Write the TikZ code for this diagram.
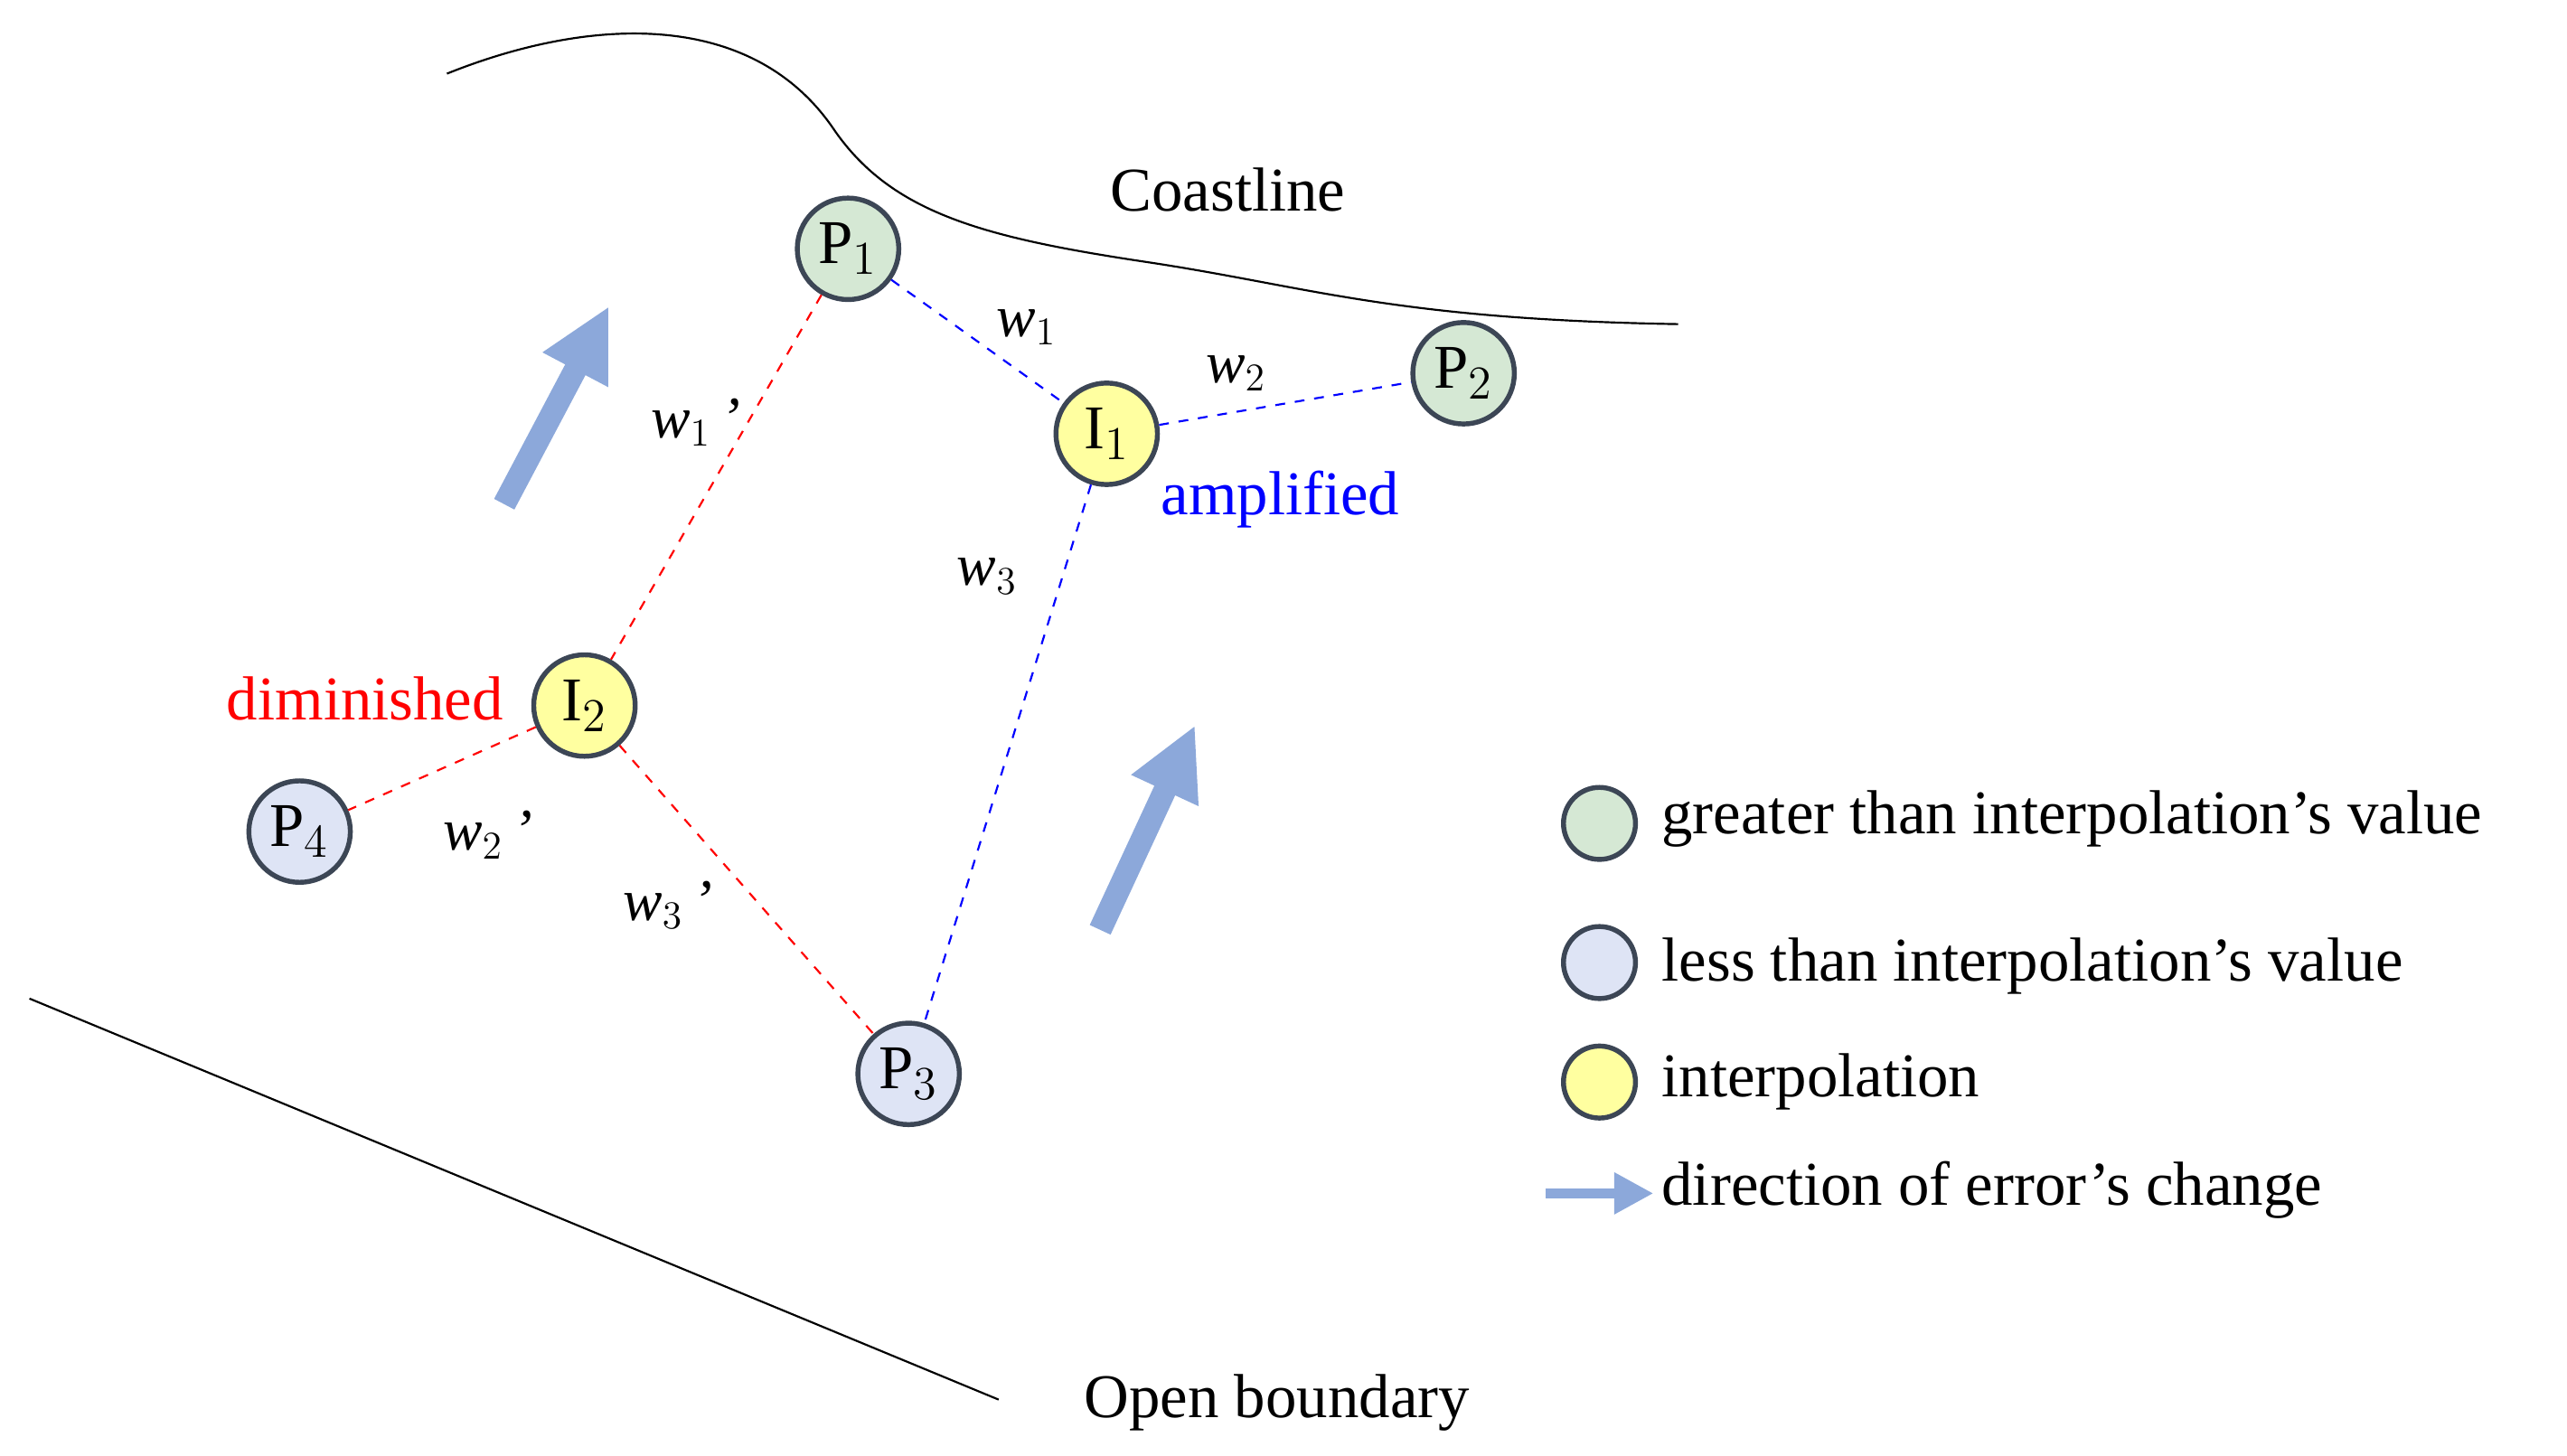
\documentclass[tikz,border=0pt]{standalone}
\usepackage{fontspec}
\setmainfont{Liberation Serif}
\usetikzlibrary{arrows.meta}
\definecolor{gfill}{RGB}{213,232,212}
\definecolor{lfill}{RGB}{222,228,245}
\definecolor{yfill}{RGB}{255,255,160}
\definecolor{ring}{RGB}{60,70,85}
\definecolor{arr}{RGB}{140,168,218}
\begin{document}
\begin{tikzpicture}[x=0.5pt,y=-0.5pt,
  pt/.style={circle,draw=ring,line width=1.5pt,minimum size=31pt,inner sep=0pt,font=\fontsize{19}{19}\selectfont},
  lg/.style={circle,draw=ring,line width=1.5pt,minimum size=22pt,inner sep=0pt},
  bl/.style={blue,dashed,line width=0.6pt},
  rd/.style={red,dashed,line width=0.6pt},
  wl/.style={font=\fontsize{18}{18}\selectfont\itshape},
  tx/.style={font=\fontsize{19}{19}\selectfont,anchor=west},
  big/.style={arr,line width=7pt,-{Triangle[length=22pt,width=21pt]}}]
\useasboundingbox (0,0) rectangle (1568,889);
% coastline
\draw[line width=0.6pt] (273,45) .. controls (360,10) and (460,5) .. (510,80)
  .. controls (545,130) and (600,145) .. (700,160)
  .. controls (800,175) and (850,195) .. (1025,198);
\node[font=\fontsize{19}{19}\selectfont] (coast) at (750,116) {Coastline};
\draw[line width=0.6pt] (18,610) -- (610,855);
\node[font=\fontsize{19}{19}\selectfont] (ob) at (780,857) {Open boundary};
% arrows
\coordinate (a1s) at (308,308); \coordinate (a1e) at (372,187);
\coordinate (a2s) at (672,568); \coordinate (a2e) at (730,443);
\draw[big] (a1s) -- (a1e);
\draw[big] (a2s) -- (a2e);
% nodes
\node[pt,fill=gfill] (P1) at (518,152) {P$_1$};
\node[pt,fill=gfill] (P2) at (894,228) {P$_2$};
\node[pt,fill=yfill] (I1) at (676,265) {I$_1$};
\node[pt,fill=yfill] (I2) at (357,431) {I$_2$};
\node[pt,fill=lfill] (P4) at (183,508) {P$_4$};
\node[pt,fill=lfill] (P3) at (555,656) {P$_3$};
% edges
\draw[bl] (P1) -- (I1);
\draw[bl] (I1) -- (P2);
\draw[bl] (I1) -- (P3);
\draw[rd] (P1) -- (I2);
\draw[rd] (I2) -- (P4);
\draw[rd] (I2) -- (P3);
% labels
\node[wl] (w1) at (627,200) {w$_1$};
\node[wl] (w2) at (755,228) {w$_2$};
\node[wl] (w1p) at (425,258) {w$_1$\,’};
\node[wl] (w3) at (603,352) {w$_3$};
\node[wl] (w2p) at (298,510) {w$_2$\,’};
\node[wl] (w3p) at (408,553) {w$_3$\,’};
\node[blue,font=\fontsize{19}{19}\selectfont] (amp) at (782,305) {amplified};
\node[red,font=\fontsize{19}{19}\selectfont] (dim) at (223,427) {diminished};
% legend
\node[lg,fill=gfill] (L1) at (977,503) {};
\node[lg,fill=lfill] (L2) at (977,588) {};
\node[lg,fill=yfill] (L3) at (977,661) {};
\coordinate (la) at (944,729); \coordinate (lb) at (1010,729);
\draw[arr,line width=3pt,-{Triangle[length=12pt,width=12pt]}] (la) -- (lb);
\node[tx] (t1) at (1008,500) {greater than interpolation’s value};
\node[tx] (t2) at (1008,590) {less than interpolation’s value};
\node[tx] (t3) at (1008,661) {interpolation};
\node[tx] (t4) at (1008,727) {direction of error’s change};
\end{tikzpicture}
\end{document}
